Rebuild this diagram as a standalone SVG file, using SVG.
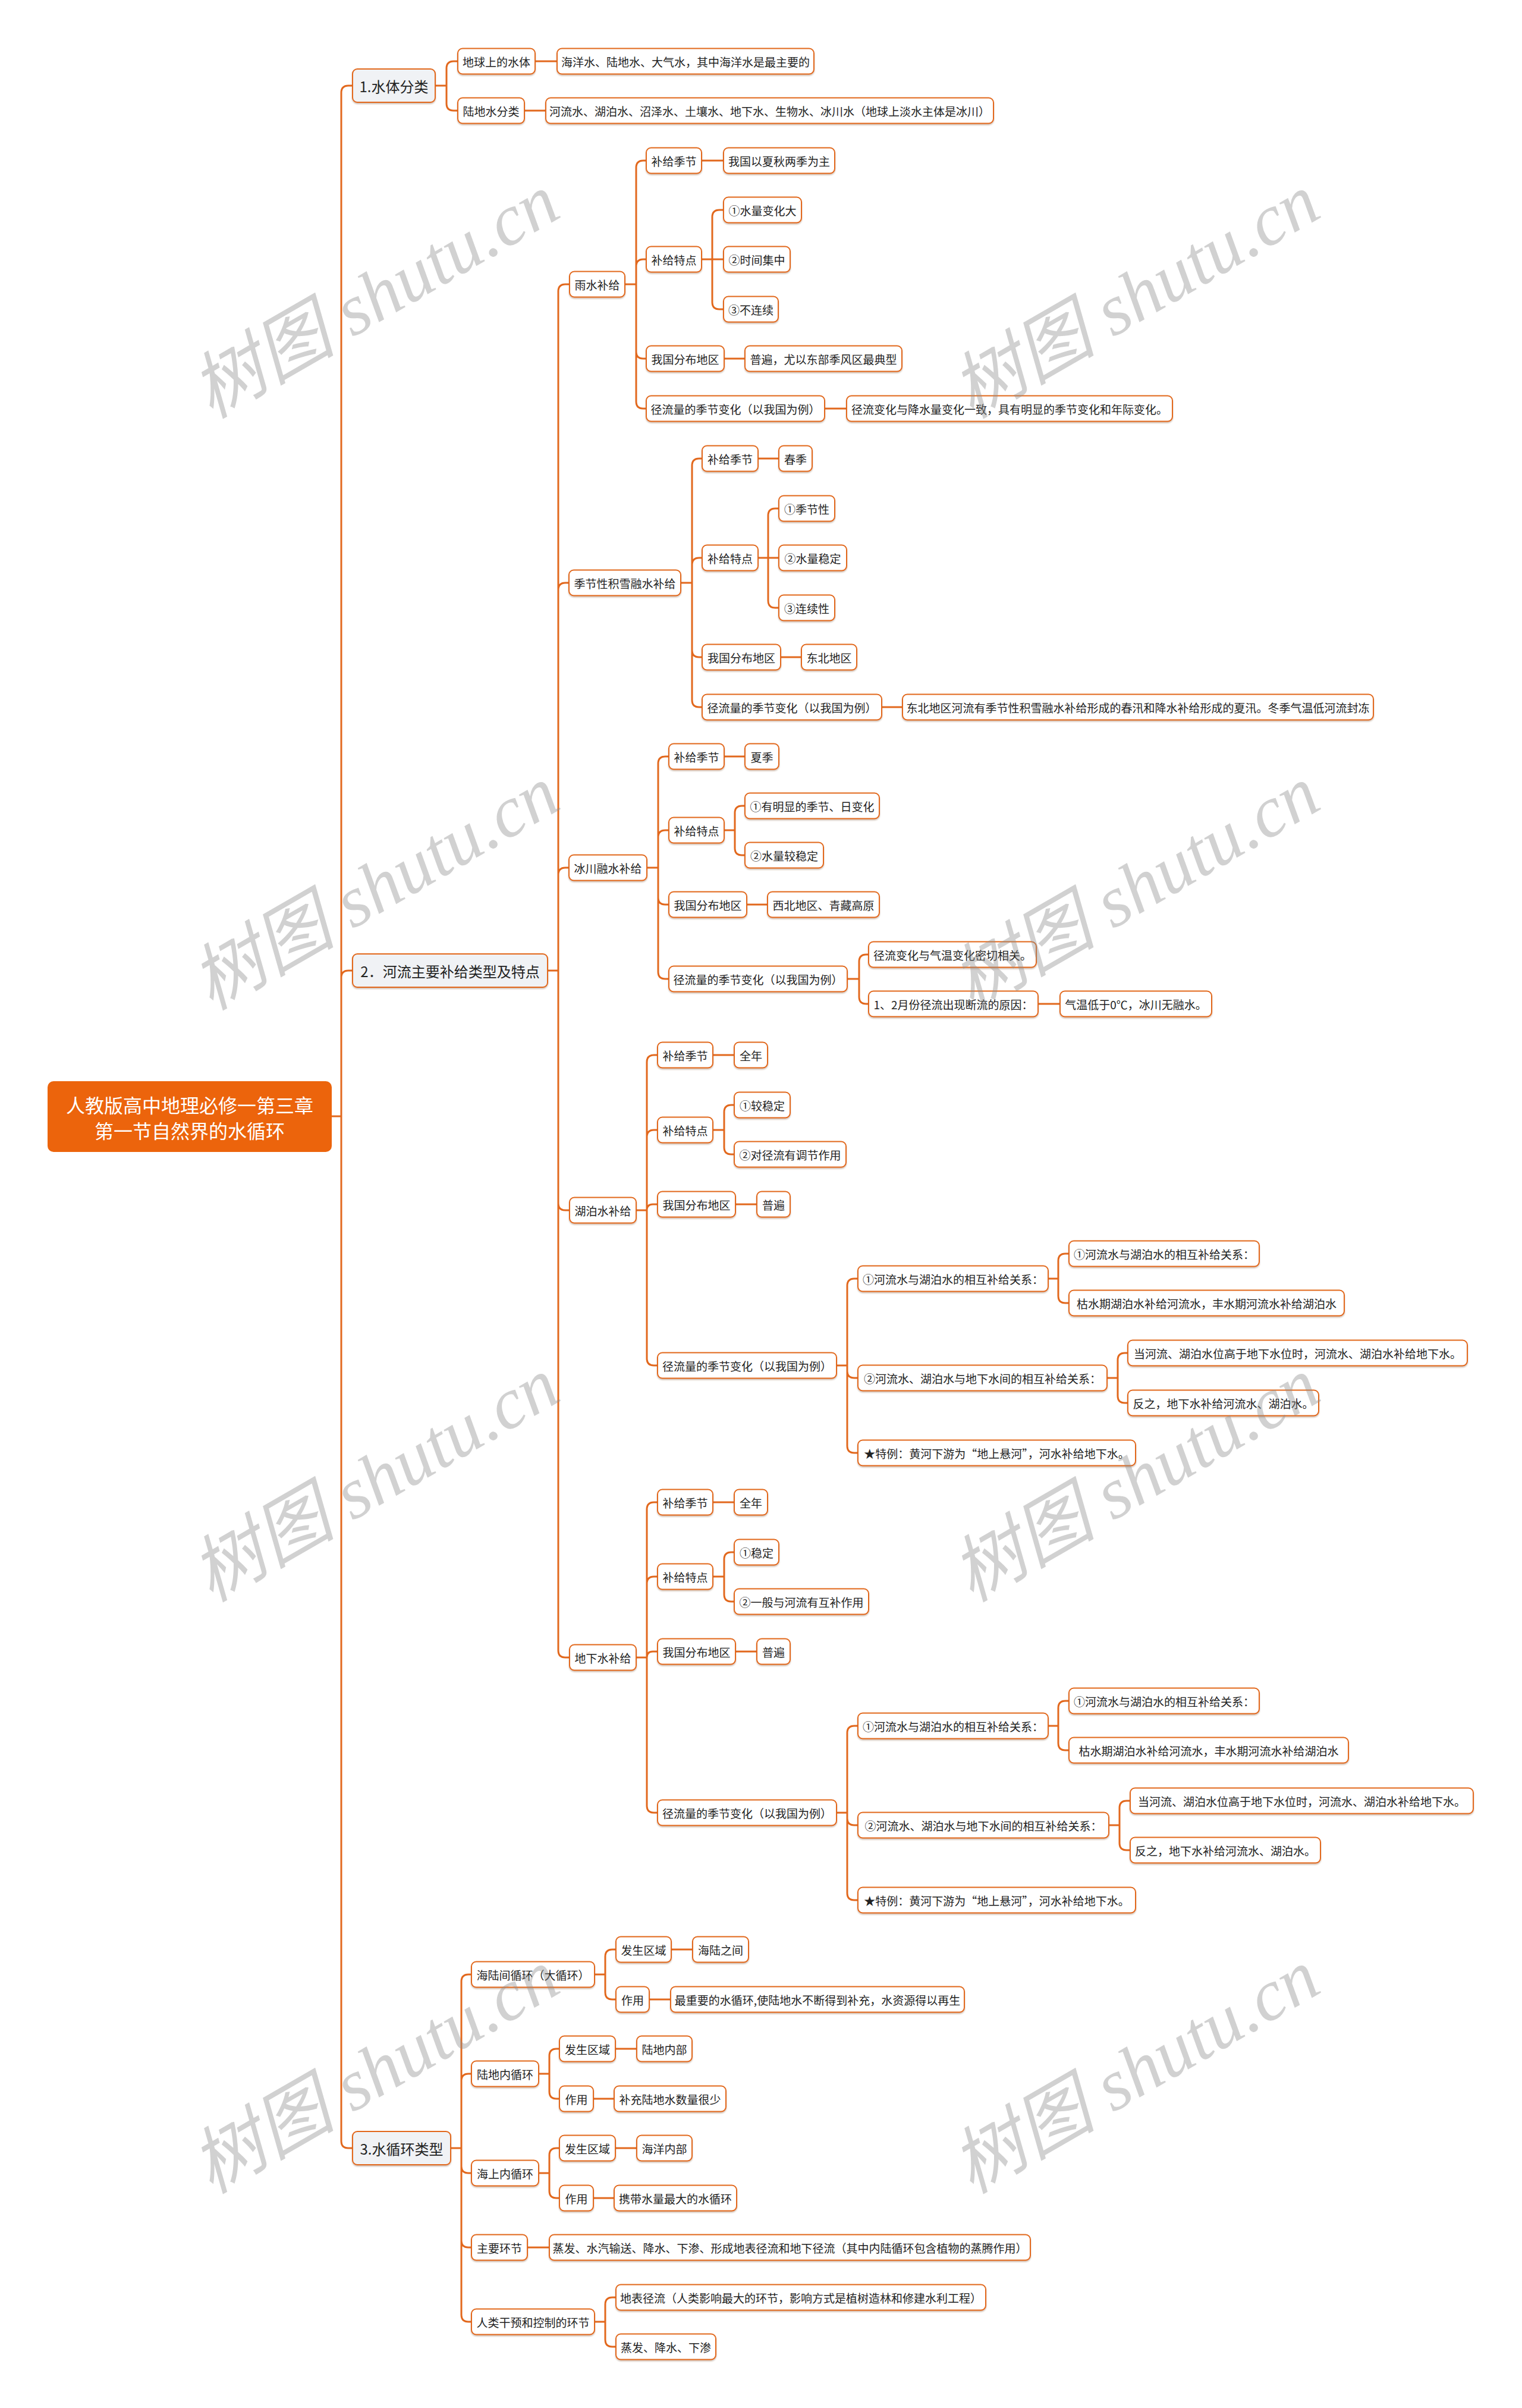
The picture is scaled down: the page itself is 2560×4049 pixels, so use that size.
<svg xmlns="http://www.w3.org/2000/svg" width="2560" height="4049" viewBox="0 0 2560 4049">
<defs>
<filter id="sh" x="-5%" y="-20%" width="110%" height="150%"><feDropShadow dx="0" dy="2" stdDeviation="1.2" flood-color="#7a4a2a" flood-opacity="0.35"/></filter>
<style>
.n rect{fill:#fff;stroke:#E2681D;stroke-width:2;filter:url(#sh)}
.n text{font-family:"Noto Sans CJK SC","Noto Sans",sans-serif;font-size:19px;fill:#222;text-anchor:middle;dominant-baseline:central}
.m rect{fill:#F0F2F5;stroke:#E2681D;stroke-width:2;filter:url(#sh)}
.m text{font-family:"Noto Sans CJK SC","Noto Sans",sans-serif;font-size:24px;fill:#222;text-anchor:middle;dominant-baseline:central}
#conn path{fill:none;stroke:#E2681D;stroke-width:3;stroke-linecap:round;stroke-linejoin:round}
.wm{font-family:"Liberation Serif","Noto Sans CJK SC",serif;font-style:italic;font-size:122px;fill:#8c8c8c;fill-opacity:0.4}
</style>
</defs>
<rect width="2560" height="4049" fill="#fff"/>
<g id="conn">
<path d="M558,1877 H574 M574,1877 V156 Q574,144 586,144 H593 M574,1877 V1644 Q574,1632 586,1632 H593 M574,1877 V3600 Q574,3612 586,3612 H593"/>
<path d="M732,144 H751 M751,144 V115 Q751,103 763,103 H770 M751,144 V174 Q751,186 763,186 H770 M900,103 H937 M882,186 H918"/>
<path d="M921,1632 H939 M939,1632 V490 Q939,478 951,478 H958 M939,1632 V992 Q939,980 951,980 H957 M939,1632 V1471 Q939,1459 951,1459 H957 M939,1632 V2023 Q939,2035 951,2035 H958 M939,1632 V2775 Q939,2787 951,2787 H958"/>
<path d="M1051,478 H1070 M1070,478 V282 Q1070,270 1082,270 H1087 M1070,478 V448 Q1070,436 1082,436 H1087 M1070,478 V591 Q1070,603 1082,603 H1087 M1070,478 V675 Q1070,687 1082,687 H1087"/>
<path d="M1180,270 H1217 M1180,436 H1217 M1198,436 V365 Q1198,353 1210,353 H1217 M1198,436 V508 Q1198,520 1210,520 H1217 M1218,603 H1253 M1387,687 H1424"/>
<path d="M1145,980 H1164 M1164,980 V783 Q1164,771 1176,771 H1181 M1164,980 V950 Q1164,938 1176,938 H1181 M1164,980 V1093 Q1164,1105 1176,1105 H1181 M1164,980 V1177 Q1164,1189 1176,1189 H1181"/>
<path d="M1275,771 H1310 M1275,938 H1310 M1292,938 V867 Q1292,855 1304,855 H1310 M1292,938 V1010 Q1292,1022 1304,1022 H1310 M1313,1105 H1348 M1483,1189 H1518"/>
<path d="M1088,1459 H1107 M1107,1459 V1284 Q1107,1272 1119,1272 H1125 M1107,1459 V1408 Q1107,1396 1119,1396 H1125 M1107,1459 V1509 Q1107,1521 1119,1521 H1125 M1107,1459 V1634 Q1107,1646 1119,1646 H1125"/>
<path d="M1218,1272 H1253 M1218,1396 H1236 M1236,1396 V1367 Q1236,1355 1248,1355 H1253 M1236,1396 V1426 Q1236,1438 1248,1438 H1253 M1256,1521 H1291 M1425,1646 H1445 M1445,1646 V1617 Q1445,1605 1457,1605 H1461 M1445,1646 V1676 Q1445,1688 1457,1688 H1461 M1746,1688 H1783"/>
<path d="M1070,2035 H1088 M1088,2035 V1786 Q1088,1774 1100,1774 H1106 M1088,2035 V1912 Q1088,1900 1100,1900 H1106 M1088,2035 Q1088,2025 1098,2025 H1106 M1088,2035 V2284 Q1088,2296 1100,2296 H1106"/>
<path d="M1199,1774 H1235 M1199,1900 H1218 M1218,1900 V1870 Q1218,1858 1230,1858 H1235 M1218,1900 V1929 Q1218,1941 1230,1941 H1235 M1237,2025 H1273"/>
<path d="M1407,2296 H1425 M1425,2296 V2162 Q1425,2150 1437,2150 H1443 M1425,2296 V2305 Q1425,2317 1437,2317 H1443 M1425,2296 V2431 Q1425,2443 1437,2443 H1443 M1763,2150 H1780 M1780,2150 V2120 Q1780,2108 1792,2108 H1798 M1780,2150 V2179 Q1780,2191 1792,2191 H1798 M1862,2317 H1880 M1880,2317 V2287 Q1880,2275 1892,2275 H1897 M1880,2317 V2347 Q1880,2359 1892,2359 H1897"/>
<path d="M1070,2787 H1088 M1088,2787 V2538 Q1088,2526 1100,2526 H1106 M1088,2787 V2663 Q1088,2651 1100,2651 H1106 M1088,2787 Q1088,2777 1098,2777 H1106 M1088,2787 V3036 Q1088,3048 1100,3048 H1106"/>
<path d="M1199,2526 H1235 M1199,2651 H1218 M1218,2651 V2622 Q1218,2610 1230,2610 H1235 M1218,2651 V2681 Q1218,2693 1230,2693 H1235 M1237,2777 H1273"/>
<path d="M1407,3048 H1425 M1425,3048 V2914 Q1425,2902 1437,2902 H1443 M1425,3048 V3057 Q1425,3069 1437,3069 H1443 M1425,3048 V3183 Q1425,3195 1437,3195 H1443 M1763,2902 H1780 M1780,2902 V2872 Q1780,2860 1792,2860 H1798 M1780,2902 V2931 Q1780,2943 1792,2943 H1798 M1865,3069 H1883 M1883,3069 V3040 Q1883,3028 1895,3028 H1901 M1883,3069 V3099 Q1883,3111 1895,3111 H1901"/>
<path d="M758,3612 H776 M776,3612 V3332 Q776,3320 788,3320 H793 M776,3612 V3499 Q776,3487 788,3487 H793 M776,3612 V3642 Q776,3654 788,3654 H793 M776,3612 V3767 Q776,3779 788,3779 H793 M776,3612 V3892 Q776,3904 788,3904 H793"/>
<path d="M1000,3320 H1018 M1018,3320 V3290 Q1018,3278 1030,3278 H1036 M1018,3320 V3350 Q1018,3362 1030,3362 H1036 M1129,3278 H1165 M1092,3362 H1128"/>
<path d="M906,3487 H924 M924,3487 V3457 Q924,3445 936,3445 H941 M924,3487 V3517 Q924,3529 936,3529 H941 M1035,3445 H1071 M998,3529 H1033"/>
<path d="M906,3654 H924 M924,3654 V3624 Q924,3612 936,3612 H941 M924,3654 V3684 Q924,3696 936,3696 H941 M1035,3612 H1071 M998,3696 H1033"/>
<path d="M887,3779 H924 M1000,3904 H1018 M1018,3904 V3875 Q1018,3863 1030,3863 H1036 M1018,3904 V3934 Q1018,3946 1030,3946 H1036"/>
</g>

<g id="root"><rect x="80" y="1818" width="478" height="119" rx="10" fill="#EC640C"/>
<text x="319" y="1857" font-family="'Noto Sans CJK SC','Noto Sans',sans-serif" font-size="32" fill="#fff" text-anchor="middle" dominant-baseline="central">人教版高中地理必修一第三章</text>
<text x="319" y="1900" font-family="'Noto Sans CJK SC','Noto Sans',sans-serif" font-size="32" fill="#fff" text-anchor="middle" dominant-baseline="central">第一节自然界的水循环</text></g>

<g id="b1" class="m"><rect x="593" y="116" width="139" height="56" rx="8"/><text x="662.5" y="144">1.水体分类</text></g>
<g id="b2" class="m"><rect x="593" y="1604" width="328" height="56" rx="8"/><text x="757" y="1632">2．河流主要补给类型及特点</text></g>
<g id="b3" class="m"><rect x="593" y="3584" width="165" height="56" rx="8"/><text x="675.5" y="3612">3.水循环类型</text></g>

<g id="n1" class="n"><rect x="770" y="81.5" width="130" height="43" rx="8"/><text x="835" y="103">地球上的水体</text></g>
<g id="n2" class="n"><rect x="937" y="81.5" width="432" height="43" rx="8"/><text x="1153" y="103">海洋水、陆地水、大气水，其中海洋水是最主要的</text></g>
<g id="n3" class="n"><rect x="770" y="164.5" width="112" height="43" rx="8"/><text x="826" y="186">陆地水分类</text></g>
<g id="n4" class="n"><rect x="918" y="164.5" width="753" height="43" rx="8"/><text x="1294.5" y="186">河流水、湖泊水、沼泽水、土壤水、地下水、生物水、冰川水（地球上淡水主体是冰川）</text></g>

<g id="r0" class="n"><rect x="958" y="456.5" width="93" height="43" rx="8"/><text x="1004.5" y="478">雨水补给</text></g>
<g id="r1" class="n"><rect x="1087" y="248.5" width="93" height="43" rx="8"/><text x="1133.5" y="270">补给季节</text></g>
<g id="r2" class="n"><rect x="1217" y="248.5" width="187" height="43" rx="8"/><text x="1310.5" y="270">我国以夏秋两季为主</text></g>
<g id="r3" class="n"><rect x="1087" y="414.5" width="93" height="43" rx="8"/><text x="1133.5" y="436">补给特点</text></g>
<g id="r4" class="n"><rect x="1217" y="331.5" width="131" height="43" rx="8"/><text x="1282.5" y="353">①水量变化大</text></g>
<g id="r5" class="n"><rect x="1217" y="414.5" width="112" height="43" rx="8"/><text x="1273" y="436">②时间集中</text></g>
<g id="r6" class="n"><rect x="1217" y="498.5" width="92" height="43" rx="8"/><text x="1263" y="520">③不连续</text></g>
<g id="r7" class="n"><rect x="1087" y="581.5" width="131" height="43" rx="8"/><text x="1152.5" y="603">我国分布地区</text></g>
<g id="r8" class="n"><rect x="1253" y="581.5" width="264" height="43" rx="8"/><text x="1385" y="603">普遍，尤以东部季风区最典型</text></g>
<g id="r9" class="n"><rect x="1087" y="665.5" width="300" height="43" rx="8"/><text x="1237" y="687">径流量的季节变化（以我国为例）</text></g>
<g id="r10" class="n"><rect x="1424" y="665.5" width="548" height="43" rx="8"/><text x="1698" y="687">径流变化与降水量变化一致，具有明显的季节变化和年际变化。</text></g>

<g id="s0" class="n"><rect x="957" y="958.5" width="188" height="43" rx="8"/><text x="1051" y="980">季节性积雪融水补给</text></g>
<g id="s1" class="n"><rect x="1181" y="749.5" width="94" height="43" rx="8"/><text x="1228" y="771">补给季节</text></g>
<g id="s2" class="n"><rect x="1310" y="749.5" width="56" height="43" rx="8"/><text x="1338" y="771">春季</text></g>
<g id="s3" class="n"><rect x="1181" y="916.5" width="94" height="43" rx="8"/><text x="1228" y="938">补给特点</text></g>
<g id="s4" class="n"><rect x="1310" y="833.5" width="94" height="43" rx="8"/><text x="1357" y="855">①季节性</text></g>
<g id="s5" class="n"><rect x="1310" y="916.5" width="114" height="43" rx="8"/><text x="1367" y="938">②水量稳定</text></g>
<g id="s6" class="n"><rect x="1310" y="1000.5" width="94" height="43" rx="8"/><text x="1357" y="1022">③连续性</text></g>
<g id="s7" class="n"><rect x="1181" y="1083.5" width="132" height="43" rx="8"/><text x="1247" y="1105">我国分布地区</text></g>
<g id="s8" class="n"><rect x="1348" y="1083.5" width="93" height="43" rx="8"/><text x="1394.5" y="1105">东北地区</text></g>
<g id="s9" class="n"><rect x="1181" y="1167.5" width="302" height="43" rx="8"/><text x="1332" y="1189">径流量的季节变化（以我国为例）</text></g>
<g id="s10" class="n"><rect x="1518" y="1167.5" width="792" height="43" rx="8"/><text x="1914" y="1189">东北地区河流有季节性积雪融水补给形成的春汛和降水补给形成的夏汛。冬季气温低河流封冻</text></g>

<g id="g0" class="n"><rect x="957" y="1437.5" width="131" height="43" rx="8"/><text x="1022.5" y="1459">冰川融水补给</text></g>
<g id="g1" class="n"><rect x="1125" y="1250.5" width="93" height="43" rx="8"/><text x="1171.5" y="1272">补给季节</text></g>
<g id="g2" class="n"><rect x="1253" y="1250.5" width="57" height="43" rx="8"/><text x="1281.5" y="1272">夏季</text></g>
<g id="g3" class="n"><rect x="1125" y="1374.5" width="93" height="43" rx="8"/><text x="1171.5" y="1396">补给特点</text></g>
<g id="g4" class="n"><rect x="1253" y="1333.5" width="226" height="43" rx="8"/><text x="1366" y="1355">①有明显的季节、日变化</text></g>
<g id="g5" class="n"><rect x="1253" y="1416.5" width="132" height="43" rx="8"/><text x="1319" y="1438">②水量较稳定</text></g>
<g id="g6" class="n"><rect x="1125" y="1499.5" width="131" height="43" rx="8"/><text x="1190.5" y="1521">我国分布地区</text></g>
<g id="g7" class="n"><rect x="1291" y="1499.5" width="188" height="43" rx="8"/><text x="1385" y="1521">西北地区、青藏高原</text></g>
<g id="g8" class="n"><rect x="1125" y="1624.5" width="300" height="43" rx="8"/><text x="1275" y="1646">径流量的季节变化（以我国为例）</text></g>
<g id="g9" class="n"><rect x="1461" y="1583.5" width="282" height="43" rx="8"/><text x="1602" y="1605">径流变化与气温变化密切相关。</text></g>
<g id="g10" class="n"><rect x="1461" y="1666.5" width="285" height="43" rx="8"/><text x="1603.5" y="1688">1、2月份径流出现断流的原因：</text></g>
<g id="g11" class="n"><rect x="1783" y="1666.5" width="255" height="43" rx="8"/><text x="1910.5" y="1688">气温低于0℃，冰川无融水。</text></g>

<g id="l0" class="n"><rect x="958" y="2013.5" width="112" height="43" rx="8"/><text x="1014" y="2035">湖泊水补给</text></g>
<g id="l1" class="n"><rect x="1106" y="1752.5" width="93" height="43" rx="8"/><text x="1152.5" y="1774">补给季节</text></g>
<g id="l2" class="n"><rect x="1235" y="1752.5" width="56" height="43" rx="8"/><text x="1263" y="1774">全年</text></g>
<g id="l3" class="n"><rect x="1106" y="1878.5" width="93" height="43" rx="8"/><text x="1152.5" y="1900">补给特点</text></g>
<g id="l4" class="n"><rect x="1235" y="1836.5" width="94" height="43" rx="8"/><text x="1282" y="1858">①较稳定</text></g>
<g id="l5" class="n"><rect x="1235" y="1919.5" width="188" height="43" rx="8"/><text x="1329" y="1941">②对径流有调节作用</text></g>
<g id="l6" class="n"><rect x="1106" y="2003.5" width="131" height="43" rx="8"/><text x="1171.5" y="2025">我国分布地区</text></g>
<g id="l7" class="n"><rect x="1273" y="2003.5" width="56" height="43" rx="8"/><text x="1301" y="2025">普遍</text></g>
<g id="l8" class="n"><rect x="1106" y="2274.5" width="301" height="43" rx="8"/><text x="1256.5" y="2296">径流量的季节变化（以我国为例）</text></g>
<g id="l9" class="n"><rect x="1443" y="2128.5" width="320" height="43" rx="8"/><text x="1603" y="2150">①河流水与湖泊水的相互补给关系：</text></g>
<g id="l10" class="n"><rect x="1798" y="2086.5" width="320" height="43" rx="8"/><text x="1958" y="2108">①河流水与湖泊水的相互补给关系：</text></g>
<g id="l11" class="n"><rect x="1798" y="2169.5" width="463" height="43" rx="8"/><text x="2029.5" y="2191">枯水期湖泊水补给河流水，丰水期河流水补给湖泊水</text></g>
<g id="l12" class="n"><rect x="1443" y="2295.5" width="419" height="43" rx="8"/><text x="1652.5" y="2317">②河流水、湖泊水与地下水间的相互补给关系：</text></g>
<g id="l13" class="n"><rect x="1897" y="2253.5" width="571" height="43" rx="8"/><text x="2182.5" y="2275">当河流、湖泊水位高于地下水位时，河流水、湖泊水补给地下水。</text></g>
<g id="l14" class="n"><rect x="1897" y="2337.5" width="321" height="43" rx="8"/><text x="2057.5" y="2359">反之，地下水补给河流水、湖泊水。</text></g>
<g id="l15" class="n"><rect x="1443" y="2421.5" width="467" height="43" rx="8"/><text x="1676.5" y="2443">★特例：黄河下游为“地上悬河”，河水补给地下水。</text></g>

<g id="w0" class="n"><rect x="958" y="2765.5" width="112" height="43" rx="8"/><text x="1014" y="2787">地下水补给</text></g>
<g id="w1" class="n"><rect x="1106" y="2504.5" width="93" height="43" rx="8"/><text x="1152.5" y="2526">补给季节</text></g>
<g id="w2" class="n"><rect x="1235" y="2504.5" width="56" height="43" rx="8"/><text x="1263" y="2526">全年</text></g>
<g id="w3" class="n"><rect x="1106" y="2629.5" width="93" height="43" rx="8"/><text x="1152.5" y="2651">补给特点</text></g>
<g id="w4" class="n"><rect x="1235" y="2588.5" width="75" height="43" rx="8"/><text x="1272.5" y="2610">①稳定</text></g>
<g id="w5" class="n"><rect x="1235" y="2671.5" width="226" height="43" rx="8"/><text x="1348" y="2693">②一般与河流有互补作用</text></g>
<g id="w6" class="n"><rect x="1106" y="2755.5" width="131" height="43" rx="8"/><text x="1171.5" y="2777">我国分布地区</text></g>
<g id="w7" class="n"><rect x="1273" y="2755.5" width="56" height="43" rx="8"/><text x="1301" y="2777">普遍</text></g>
<g id="w8" class="n"><rect x="1106" y="3026.5" width="301" height="43" rx="8"/><text x="1256.5" y="3048">径流量的季节变化（以我国为例）</text></g>
<g id="w9" class="n"><rect x="1443" y="2880.5" width="320" height="43" rx="8"/><text x="1603" y="2902">①河流水与湖泊水的相互补给关系：</text></g>
<g id="w10" class="n"><rect x="1798" y="2838.5" width="320" height="43" rx="8"/><text x="1958" y="2860">①河流水与湖泊水的相互补给关系：</text></g>
<g id="w11" class="n"><rect x="1798" y="2921.5" width="470" height="43" rx="8"/><text x="2033" y="2943">枯水期湖泊水补给河流水，丰水期河流水补给湖泊水</text></g>
<g id="w12" class="n"><rect x="1443" y="3047.5" width="422" height="43" rx="8"/><text x="1654" y="3069">②河流水、湖泊水与地下水间的相互补给关系：</text></g>
<g id="w13" class="n"><rect x="1901" y="3006.5" width="577" height="43" rx="8"/><text x="2189.5" y="3028">当河流、湖泊水位高于地下水位时，河流水、湖泊水补给地下水。</text></g>
<g id="w14" class="n"><rect x="1901" y="3089.5" width="320" height="43" rx="8"/><text x="2061" y="3111">反之，地下水补给河流水、湖泊水。</text></g>
<g id="w15" class="n"><rect x="1443" y="3173.5" width="467" height="43" rx="8"/><text x="1676.5" y="3195">★特例：黄河下游为“地上悬河”，河水补给地下水。</text></g>

<g id="c1" class="n"><rect x="793" y="3298.5" width="207" height="43" rx="8"/><text x="896.5" y="3320">海陆间循环（大循环）</text></g>
<g id="c2" class="n"><rect x="1036" y="3256.5" width="93" height="43" rx="8"/><text x="1082.5" y="3278">发生区域</text></g>
<g id="c3" class="n"><rect x="1165" y="3256.5" width="94" height="43" rx="8"/><text x="1212" y="3278">海陆之间</text></g>
<g id="c4" class="n"><rect x="1036" y="3340.5" width="56" height="43" rx="8"/><text x="1064" y="3362">作用</text></g>
<g id="c5" class="n"><rect x="1128" y="3340.5" width="494" height="43" rx="8"/><text x="1375" y="3362">最重要的水循环,使陆地水不断得到补充，水资源得以再生</text></g>
<g id="c6" class="n"><rect x="793" y="3465.5" width="113" height="43" rx="8"/><text x="849.5" y="3487">陆地内循环</text></g>
<g id="c7" class="n"><rect x="941" y="3423.5" width="94" height="43" rx="8"/><text x="988" y="3445">发生区域</text></g>
<g id="c8" class="n"><rect x="1071" y="3423.5" width="93" height="43" rx="8"/><text x="1117.5" y="3445">陆地内部</text></g>
<g id="c9" class="n"><rect x="941" y="3507.5" width="57" height="43" rx="8"/><text x="969.5" y="3529">作用</text></g>
<g id="c10" class="n"><rect x="1033" y="3507.5" width="188" height="43" rx="8"/><text x="1127" y="3529">补充陆地水数量很少</text></g>
<g id="c11" class="n"><rect x="793" y="3632.5" width="113" height="43" rx="8"/><text x="849.5" y="3654">海上内循环</text></g>
<g id="c12" class="n"><rect x="941" y="3590.5" width="94" height="43" rx="8"/><text x="988" y="3612">发生区域</text></g>
<g id="c13" class="n"><rect x="1071" y="3590.5" width="93" height="43" rx="8"/><text x="1117.5" y="3612">海洋内部</text></g>
<g id="c14" class="n"><rect x="941" y="3674.5" width="57" height="43" rx="8"/><text x="969.5" y="3696">作用</text></g>
<g id="c15" class="n"><rect x="1033" y="3674.5" width="206" height="43" rx="8"/><text x="1136" y="3696">携带水量最大的水循环</text></g>
<g id="c16" class="n"><rect x="793" y="3757.5" width="94" height="43" rx="8"/><text x="840" y="3779">主要环节</text></g>
<g id="c17" class="n"><rect x="924" y="3757.5" width="809" height="43" rx="8"/><text x="1328.5" y="3779">蒸发、水汽输送、降水、下渗、形成地表径流和地下径流（其中内陆循环包含植物的蒸腾作用）</text></g>
<g id="c18" class="n"><rect x="793" y="3882.5" width="207" height="43" rx="8"/><text x="896.5" y="3904">人类干预和控制的环节</text></g>
<g id="c19" class="n"><rect x="1036" y="3841.5" width="622" height="43" rx="8"/><text x="1347" y="3863">地表径流（人类影响最大的环节，影响方式是植树造林和修建水利工程）</text></g>
<g id="c20" class="n"><rect x="1036" y="3924.5" width="168" height="43" rx="8"/><text x="1120" y="3946">蒸发、降水、下渗</text></g>

<g id="watermark">
<text class="wm" x="355" y="705" transform="rotate(-30 355 705)">树图 shutu.cn</text>
<text class="wm" x="1634" y="705" transform="rotate(-30 1634 705)">树图 shutu.cn</text>
<text class="wm" x="355" y="1700" transform="rotate(-30 355 1700)">树图 shutu.cn</text>
<text class="wm" x="1634" y="1700" transform="rotate(-30 1634 1700)">树图 shutu.cn</text>
<text class="wm" x="355" y="2695" transform="rotate(-30 355 2695)">树图 shutu.cn</text>
<text class="wm" x="1634" y="2695" transform="rotate(-30 1634 2695)">树图 shutu.cn</text>
<text class="wm" x="355" y="3690" transform="rotate(-30 355 3690)">树图 shutu.cn</text>
<text class="wm" x="1634" y="3690" transform="rotate(-30 1634 3690)">树图 shutu.cn</text>
</g>
</svg>
